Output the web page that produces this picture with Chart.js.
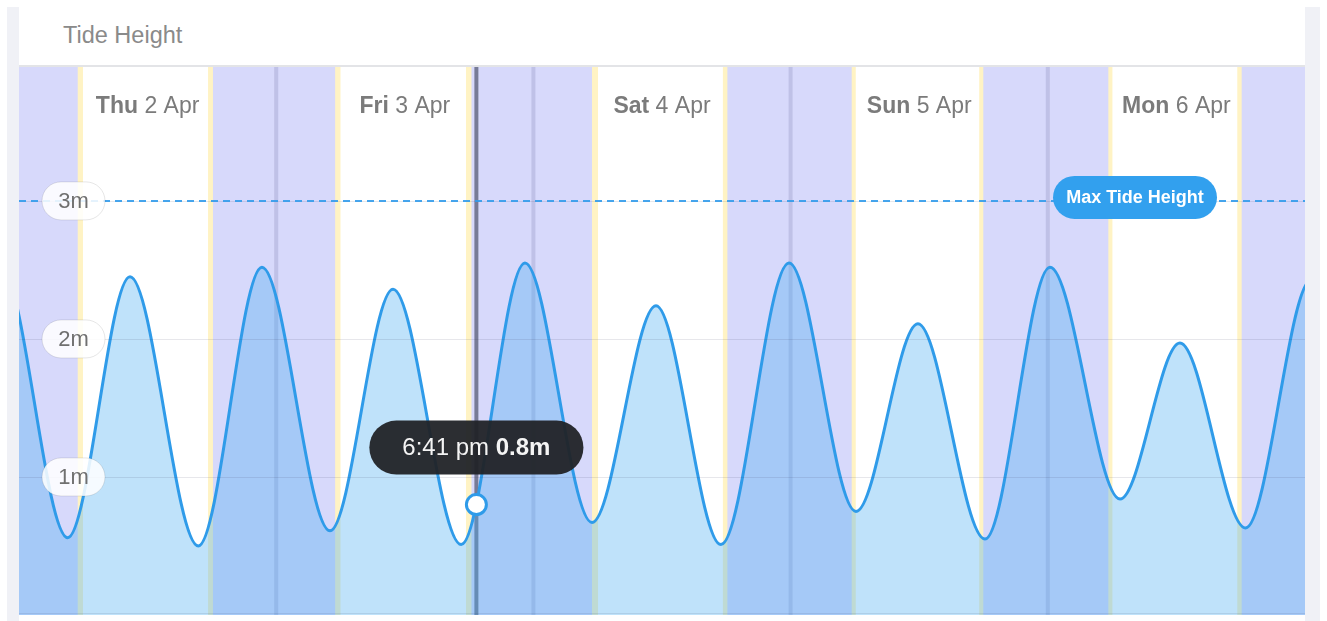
<!DOCTYPE html>
<html>
<head>
<meta charset="utf-8">
<script src="https://cdn.jsdelivr.net/npm/chart.js@4.4.1/dist/chart.umd.min.js"></script>
<style>
html,body{margin:0;padding:0;background:#fff;width:1327px;height:621px;overflow:hidden;font-family:"Liberation Sans",Arial,sans-serif}
#frame{position:absolute;left:7px;top:7px;width:1313px;height:614px;background:#f0f1f6}
#card{position:absolute;left:19px;top:7px;width:1286px;height:614px;background:#fff}
#topline{position:absolute;left:19px;top:65px;width:1286px;height:2px;background:#e3e4e7}
#title{position:absolute;left:63px;top:24px;font-size:23.5px;line-height:1;color:#8a8a8a;white-space:nowrap}
canvas{position:absolute;left:0;top:0}
</style>
</head>
<body>
<div id="frame"></div>
<div id="card"></div>
<div id="topline"></div>
<div id="title">Tide Height</div>
<canvas id="c" width="1327" height="621"></canvas>
<script>
// ---- data (hours since Thu 2 Apr 00:00) ----
const dayNames = ['Thu', 'Fri', 'Sat', 'Sun', 'Mon'];
const dayDates = ['2 Apr', '3 Apr', '4 Apr', '5 Apr', '6 Apr'];
const dawn    = [5.48, 5.50, 5.47, 5.70, 5.65];
const sunrise = [5.97, 6.00, 6.03, 6.08, 6.03];
const sunset  = [17.64, 17.71, 17.68, 17.60, 17.68];
const dusk    = [18.10, 18.22, 18.10, 17.98, 18.09];
const midnights = [24, 48, 72, 96];

const tideTimes   = [-7.9, -1.65, 4.54, 10.36, 16.73, 22.67, 29.02, 34.90, 41.26, 47.21, 53.47, 59.44, 65.50, 71.85, 78.10, 83.88, 90.14, 96.20, 102.74, 108.33, 114.46, 120.6, 126.8];
const tideHeights = [0.55, 2.51, 0.56, 2.45, 0.50, 2.52, 0.61, 2.36, 0.51, 2.55, 0.67, 2.24, 0.51, 2.55, 0.75, 2.11, 0.55, 2.52, 0.84, 1.97, 0.63, 2.43, 0.60];

const yTicks = [1, 2, 3];
const yTickLabels = ['1m', '2m', '3m'];
const maxTideHeight = 3;
const maxTideLabel = 'Max Tide Height';
const nowTime = 42.68;
const nowLabel = '6:41 pm';
const nowHeight = 0.8;

const X_MIN = 0, X_MAX = 120, Y_MIN = 0, Y_MAX = 3.97;

// ---- styles ----
const FONT = '"Liberation Sans", Arial, sans-serif';
const NIGHT = 'rgb(215,217,251)';
const TWILIGHT = 'rgb(255,243,196)';
const MIDNIGHT = 'rgba(110,110,160,0.22)';
const NOWLINE = 'rgb(119,123,150)';
const LINE = '#2f9be9';

function pill(ctx, x, y, w, h, r) {
  ctx.beginPath();
  ctx.moveTo(x + r, y);
  ctx.lineTo(x + w - r, y);
  ctx.arc(x + w - r, y + r, r, -Math.PI / 2, Math.PI / 2);
  ctx.lineTo(x + r, y + h);
  ctx.arc(x + r, y + r, r, Math.PI / 2, Math.PI * 1.5);
  ctx.closePath();
}

const decor = {
  id: 'decor',
  beforeDatasetsDraw(chart) {
    const {ctx, chartArea: a, scales: {x}} = chart;
    ctx.save();
    ctx.fillStyle = NIGHT;
    ctx.fillRect(a.left, a.top, a.width, a.height);
    for (let d = 0; d < dayNames.length; d++) {
      const b = d * 24;
      const x1 = x.getPixelForValue(b + dawn[d]), x2 = x.getPixelForValue(b + dusk[d]);
      ctx.fillStyle = TWILIGHT;
      ctx.fillRect(x1, a.top, x2 - x1, a.height);
      const x3 = x.getPixelForValue(b + sunrise[d]), x4 = x.getPixelForValue(b + sunset[d]);
      ctx.fillStyle = '#ffffff';
      ctx.fillRect(x3, a.top, x4 - x3, a.height);
    }
    ctx.fillStyle = MIDNIGHT;
    midnights.forEach(h => {
      const px = x.getPixelForValue(h);
      ctx.fillRect(px - 2, a.top, 4, a.height);
    });
    const nx = x.getPixelForValue(nowTime);
    ctx.fillStyle = NOWLINE;
    ctx.fillRect(nx - 2, a.top, 4, a.height);
    ctx.restore();
  },
  afterDatasetsDraw(chart) {
    const {ctx, chartArea: a, scales: {x, y}} = chart;
    ctx.save();
    // grid lines
    ctx.strokeStyle = 'rgba(60,60,90,0.12)';
    ctx.lineWidth = 1;
    yTicks.forEach(v => {
      const py = Math.round(y.getPixelForValue(v)) + 0.5;
      ctx.beginPath(); ctx.moveTo(a.left, py); ctx.lineTo(a.right, py); ctx.stroke();
    });
    // bottom border
    ctx.strokeStyle = 'rgba(60,70,110,0.12)';
    ctx.beginPath(); ctx.moveTo(a.left, a.bottom - 1.5); ctx.lineTo(a.right, a.bottom - 1.5); ctx.stroke();
    // max tide dashed line
    const my = y.getPixelForValue(maxTideHeight);
    ctx.strokeStyle = 'rgba(50,155,235,0.9)';
    ctx.lineWidth = 2;
    ctx.setLineDash([7, 5]);
    ctx.beginPath(); ctx.moveTo(a.left, my); ctx.lineTo(a.right, my); ctx.stroke();
    ctx.setLineDash([]);
    // y labels as pills
    ctx.font = '22px ' + FONT;
    ctx.textAlign = 'center';
    ctx.textBaseline = 'middle';
    yTicks.forEach((v, i) => {
      const py = y.getPixelForValue(v);
      const cx = a.left + 54.5;
      pill(ctx, cx - 31.5, py - 19, 63, 38, 19);
      ctx.fillStyle = 'rgba(255,255,255,0.86)';
      ctx.fill();
      ctx.strokeStyle = 'rgba(0,0,0,0.1)';
      ctx.lineWidth = 1;
      ctx.stroke();
      ctx.fillStyle = '#707070';
      ctx.fillText(yTickLabels[i], cx, py + 1);
    });
    // max tide pill
    const pw = 164, ph = 43;
    const pcx = a.right - 170, pcy = my - 3.5;
    pill(ctx, pcx - pw / 2, pcy - ph / 2, pw, ph, ph / 2);
    ctx.fillStyle = '#32a0ee';
    ctx.fill();
    ctx.font = 'bold 18px ' + FONT;
    ctx.fillStyle = '#ffffff';
    ctx.fillText(maxTideLabel, pcx, pcy + 1);
    // day labels
    ctx.textBaseline = 'alphabetic';
    ctx.textAlign = 'left';
    for (let d = 0; d < dayNames.length; d++) {
      const cx = x.getPixelForValue(d * 24 + 12);
      const bold = 'bold 23px ' + FONT, reg = '23px ' + FONT;
      ctx.font = bold; const w1 = ctx.measureText(dayNames[d]).width;
      ctx.font = reg; const w2 = ctx.measureText(' ' + dayDates[d]).width;
      const sx = cx - (w1 + w2) / 2;
      ctx.fillStyle = '#7b7b7b';
      ctx.font = bold; ctx.fillText(dayNames[d], sx, a.top + 46);
      ctx.font = reg; ctx.fillText(' ' + dayDates[d], sx + w1, a.top + 46);
    }
    ctx.restore();
  },
  afterDraw(chart) {
    const {ctx, scales: {x, y}} = chart;
    ctx.save();
    const px = x.getPixelForValue(nowTime), py = y.getPixelForValue(nowHeight);
    const t1 = nowLabel + ' ', t2 = nowHeight + 'm';
    const reg = '24px ' + FONT, bold = 'bold 24px ' + FONT;
    ctx.font = reg; const w1 = ctx.measureText(t1).width;
    ctx.font = bold; const w2 = ctx.measureText(t2).width;
    const w = w1 + w2 + 66, h = 54;
    const top = py - 30 - h;
    pill(ctx, px - w / 2, top, w, h, h / 2);
    ctx.fillStyle = 'rgba(33,35,39,0.95)';
    ctx.fill();
    ctx.textBaseline = 'middle';
    ctx.textAlign = 'left';
    ctx.fillStyle = '#f4f4f4';
    const sx = px - (w1 + w2) / 2;
    ctx.font = reg; ctx.fillText(t1, sx, top + h / 2 + 1);
    ctx.font = bold; ctx.fillText(t2, sx + w1, top + h / 2 + 1);
    ctx.restore();
  }
};

new Chart(document.getElementById('c'), {
  type: 'line',
  data: {
    datasets: [
      {
        label: 'now',
        data: [{x: nowTime, y: nowHeight}],
        showLine: false,
        pointRadius: 10,
        pointBorderWidth: 3,
        pointBackgroundColor: '#ffffff',
        pointBorderColor: LINE,
        order: 0
      },
      {
        label: 'Tide Height',
        data: tideTimes.map((t, i) => ({x: t, y: tideHeights[i]})),
        borderColor: LINE,
        borderWidth: 3,
        backgroundColor: 'rgba(72,172,241,0.35)',
        fill: 'start',
        pointRadius: 0,
        cubicInterpolationMode: 'monotone',
        capBezierPoints: false,
        order: 1
      }
    ]
  },
  options: {
    responsive: false,
    animation: false,
    devicePixelRatio: 1,
    layout: {autoPadding: false, padding: {left: 19, right: 22, top: 67, bottom: 6}},
    scales: {
      x: {type: 'linear', min: X_MIN, max: X_MAX, display: false},
      y: {type: 'linear', min: Y_MIN, max: Y_MAX, display: false}
    },
    plugins: {legend: {display: false}, tooltip: {enabled: false}},
    events: []
  },
  plugins: [decor]
});
</script>
</body>
</html>
